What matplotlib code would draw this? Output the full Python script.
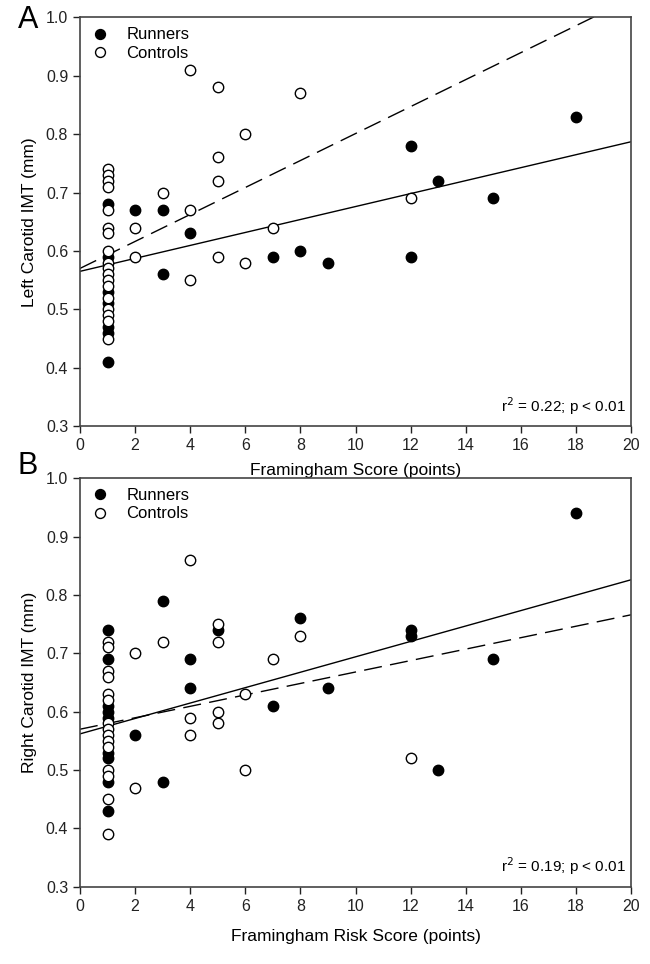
"""
Carotid IMT vs Framingham score, runners and controls (panels A and B).
"""

import numpy as np
import matplotlib.pyplot as plt

plt.rcParams['font.family'] = ['Liberation Sans', 'DejaVu Sans']

# Panel A - left carotid IMT
a_run_x = [1, 1, 1, 1, 1, 1, 1, 2, 3, 3, 4, 7, 8, 9, 12, 12, 13, 15, 18]
a_run_y = [0.68, 0.59, 0.53, 0.51, 0.47, 0.46, 0.41,
           0.67, 0.67, 0.56, 0.63, 0.59, 0.60, 0.58, 0.78, 0.59, 0.72, 0.69, 0.83]
a_ctl_x = [1] * 18 + [2, 2, 3, 4, 4, 4, 5, 5, 5, 5, 6, 6, 7, 8, 12]
a_ctl_y = [0.74, 0.73, 0.72, 0.71, 0.67, 0.64, 0.63, 0.60, 0.58, 0.57, 0.56,
           0.55, 0.54, 0.52, 0.50, 0.49, 0.48, 0.45,
           0.64, 0.59, 0.70, 0.91, 0.67, 0.55, 0.88, 0.76, 0.72, 0.59,
           0.80, 0.58, 0.64, 0.87, 0.69]
a_run_fit = [0.565, 0.0111]   # intercept, slope
a_ctl_fit = [0.570, 0.0231]

# Panel B - right carotid IMT
b_run_x = [1] * 9 + [2, 3, 3, 4, 4, 5, 7, 8, 9, 12, 12, 13, 15, 18]
b_run_y = [0.74, 0.69, 0.61, 0.60, 0.59, 0.53, 0.52, 0.48, 0.43,
           0.56, 0.79, 0.48, 0.69, 0.64, 0.74, 0.61, 0.76, 0.64, 0.74, 0.73,
           0.50, 0.69, 0.94]
b_ctl_x = [1] * 15 + [2, 2, 3, 4, 4, 4, 5, 5, 5, 5, 6, 6, 7, 8, 12]
b_ctl_y = [0.72, 0.71, 0.67, 0.66, 0.63, 0.62, 0.58, 0.57, 0.56, 0.55, 0.54,
           0.50, 0.49, 0.45, 0.39,
           0.70, 0.47, 0.72, 0.86, 0.59, 0.56, 0.75, 0.72, 0.60, 0.58,
           0.63, 0.50, 0.69, 0.73, 0.52]
b_run_fit = [0.562, 0.0132]
b_ctl_fit = [0.570, 0.0098]

x_ticks = list(range(0, 21, 2))
y_ticks = [0.3, 0.4, 0.5, 0.6, 0.7, 0.8, 0.9, 1.0]

fig = plt.figure(figsize=(6.5, 9.64), dpi=100)
ax_a = fig.add_axes([0.123, 0.558, 0.848, 0.424])
ax_b = fig.add_axes([0.123, 0.080, 0.848, 0.424])


def panel(ax, rx, ry, cx, cy, rfit, cfit, ylabel, xlabel, letter, stat, ly, lp):
    xs = np.array([0, 20])
    ax.plot(xs, rfit[0] + rfit[1] * xs, color='black', lw=1.0, zorder=2)
    ax.plot(xs, cfit[0] + cfit[1] * xs, color='black', lw=1.0,
            dashes=(13, 6), zorder=2)
    ax.plot(rx, ry, 'o', ms=7.5, mfc='black', mec='black', mew=1.0,
            ls='none', label='Runners', zorder=3)
    ax.plot(cx, cy, 'o', ms=7.5, mfc='white', mec='black', mew=1.0,
            ls='none', label='Controls', zorder=3)
    ax.set_xlim(0, 20)
    ax.set_ylim(0.3, 1.0)
    ax.set_xticks(x_ticks)
    ax.set_yticks(y_ticks)
    ax.set_yticklabels([f'{v:.1f}' for v in y_ticks])
    ax.tick_params(direction='out', length=5, width=1, labelsize=11.5,
                   colors='#222222')
    for sp in ax.spines.values():
        sp.set_color('#444444')
        sp.set_linewidth(1.2)
    ax.set_xlabel(xlabel, fontsize=12.5, labelpad=lp)
    ax.set_ylabel(ylabel, fontsize=12.5, labelpad=6)
    ax.legend(loc='upper left', frameon=False, fontsize=12, handletextpad=1.0,
              borderaxespad=0.2, labelspacing=0.2, handlelength=1.2,
              markerscale=0.95)
    ax.text(0.99, 0.05, stat, transform=ax.transAxes, ha='right',
            va='center', fontsize=11)
    fig.text(0.027, ly, letter, ha='left', va='center', fontsize=22)


panel(ax_a, a_run_x, a_run_y, a_ctl_x, a_ctl_y, a_run_fit, a_ctl_fit,
      'Left Carotid IMT (mm)', 'Framingham Score (points)', 'A',
      r'r$^2$ = 0.22; p < 0.01', 0.979, 7)
panel(ax_b, b_run_x, b_run_y, b_ctl_x, b_ctl_y, b_run_fit, b_ctl_fit,
      'Right Carotid IMT (mm)', 'Framingham Risk Score (points)', 'B',
      r'r$^2$ = 0.19; p < 0.01', 0.517, 11)

fig.savefig('out.png', dpi=100)
